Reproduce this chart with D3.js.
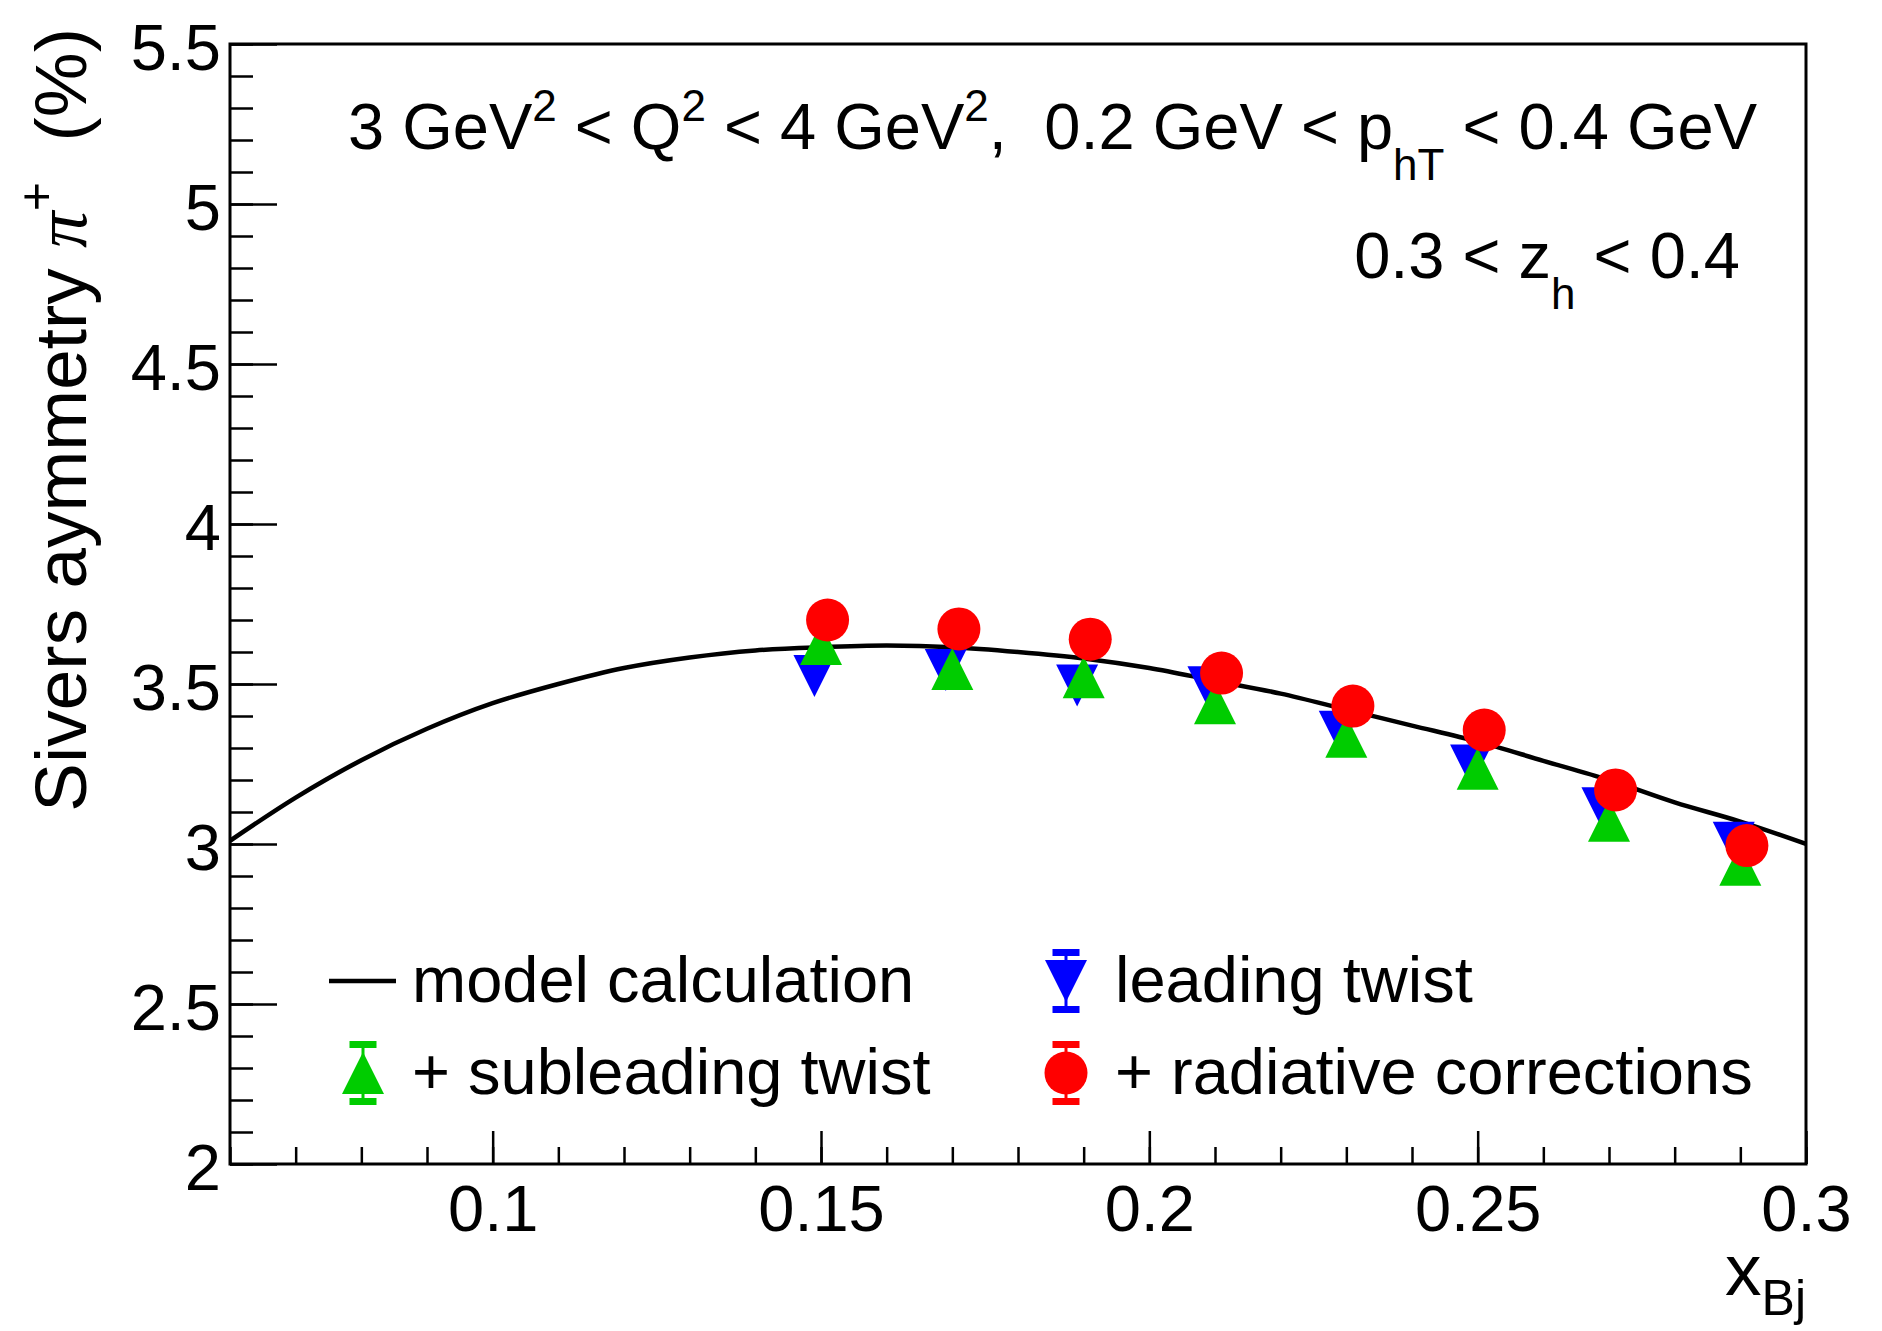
<!DOCTYPE html>
<html>
<head>
<meta charset="utf-8">
<script src="https://cdn.jsdelivr.net/npm/d3@7"></script>
<style>
  body { margin: 0; background: #fff; }
  text { font-family: "Liberation Sans", Arial, sans-serif; fill: #000; white-space: pre; }
</style>
</head>
<body>
<svg width="1882" height="1331"></svg>
<script>
// values
var xTicks = [0.1, 0.15, 0.2, 0.25, 0.3];
var yTicks = [2, 2.5, 3, 3.5, 4, 4.5, 5, 5.5];

var xLeading = [0.149, 0.169, 0.189, 0.209, 0.229, 0.249, 0.269, 0.289];
var yLeading = [3.525, 3.544, 3.495, 3.49, 3.351, 3.245, 3.112, 3.004];

var xSublead = [0.150, 0.170, 0.190, 0.210, 0.230, 0.250, 0.270, 0.290];
var ySublead = [3.625, 3.547, 3.521, 3.440, 3.335, 3.235, 3.073, 2.935];

var xRadiative = [0.151, 0.171, 0.191, 0.211, 0.231, 0.251, 0.271, 0.291];
var yRadiative = [3.70, 3.672, 3.640, 3.534, 3.431, 3.356, 3.169, 2.995];

var xModel = [0.06, 0.07, 0.08, 0.09, 0.10, 0.11, 0.12, 0.13, 0.14, 0.15, 0.16, 0.17, 0.18,
              0.19, 0.20, 0.21, 0.22, 0.23, 0.24, 0.25, 0.26, 0.27, 0.28, 0.29, 0.30];
var yModel = [3.010, 3.145, 3.262, 3.36, 3.44, 3.50, 3.55, 3.583, 3.605, 3.615, 3.62, 3.615, 3.60,
              3.58, 3.55, 3.51, 3.47, 3.42, 3.37, 3.32, 3.26, 3.20, 3.13, 3.07, 3.00];

var legendNames = ["model calculation", "leading twist", "+ subleading twist", "+ radiative corrections"];

var svg = d3.select("svg"),
    fLeft = 230, fRight = 1806, fTop = 44, fBottom = 1164,
    fs = 65, titleFs = 73;

var x = d3.scaleLinear().domain([0.06, 0.3]).range([fLeft, fRight]),
    y = d3.scaleLinear().domain([2, 5.5]).range([fBottom, fTop]);

var xMinor = d3.range(6, 31).map(function(d) { return d / 100; }),
    yMinor = d3.range(20, 56).map(function(d) { return d / 10; });

// axes, ticks inside the frame like ROOT
var gx = svg.append("g").attr("transform", "translate(0," + fBottom + ")");
gx.call(d3.axisBottom(x).tickValues(xMinor).tickSizeInner(-17).tickSizeOuter(0).tickFormat(""));
gx.append("g").call(d3.axisBottom(x).tickValues(xTicks).tickSizeInner(-33).tickSizeOuter(0)
    .tickPadding(21).tickFormat(d3.format("~g")));

var gy = svg.append("g").attr("transform", "translate(" + fLeft + ",0)");
gy.call(d3.axisLeft(y).tickValues(yMinor).tickSizeInner(-23).tickSizeOuter(0).tickFormat(""));
gy.append("g").call(d3.axisLeft(y).tickValues(yTicks).tickSizeInner(-47).tickSizeOuter(0)
    .tickPadding(9).tickFormat(d3.format("~g")));

svg.selectAll(".domain").remove();
svg.selectAll(".tick line").attr("stroke", "#000").attr("stroke-width", 2.5);
svg.selectAll(".tick text").style("font-family", "'Liberation Sans', Arial, sans-serif")
    .style("font-size", fs + "px").attr("fill", "#000");
gy.selectAll(".tick text").attr("dy", "0.39em");

svg.append("rect")
    .attr("x", fLeft).attr("y", fTop)
    .attr("width", fRight - fLeft).attr("height", fBottom - fTop)
    .attr("fill", "none").attr("stroke", "#000").attr("stroke-width", 3);

// axis titles
var xt = svg.append("text").attr("x", fRight).attr("y", 1295)
    .attr("text-anchor", "end").style("font-size", titleFs + "px");
xt.append("tspan").text("x");
xt.append("tspan").attr("dy", 20).style("font-size", "50px").text("Bj");

var yt = svg.append("text")
    .attr("transform", "translate(86,28) rotate(-90)")
    .attr("text-anchor", "end").style("font-size", titleFs + "px");
yt.append("tspan").text("Sivers aymmetry ");
yt.append("tspan").style("font-family", "'Liberation Serif', serif").style("font-style", "italic").text("π");
yt.append("tspan").attr("dy", -33).style("font-size", "50px").text("+");
yt.append("tspan").attr("dy", 33).text("  (%)");

// model curve
svg.append("clipPath").attr("id", "frame").append("rect")
    .attr("x", fLeft).attr("y", fTop).attr("width", fRight - fLeft).attr("height", fBottom - fTop);

var line = d3.line()
    .x(function(d) { return x(d[0]); })
    .y(function(d) { return y(d[1]); })
    .curve(d3.curveMonotoneX);

svg.append("path")
    .datum(d3.zip(xModel, yModel))
    .attr("clip-path", "url(#frame)")
    .attr("d", line)
    .attr("fill", "none").attr("stroke", "#000").attr("stroke-width", 4.5);

// markers
var r = 21;
function tri(cx, cy, up) {
  var s = up ? 1 : -1;
  return "M" + (cx - r) + "," + (cy + s * r) + "L" + (cx + r) + "," + (cy + s * r) +
         "L" + cx + "," + (cy - s * r) + "Z";
}

svg.append("g").selectAll("path")
    .data(d3.zip(xLeading, yLeading))
    .enter().append("path")
    .attr("d", function(d) { return tri(x(d[0]), y(d[1]), false); })
    .attr("fill", "#0000ff");

svg.append("g").selectAll("path")
    .data(d3.zip(xSublead, ySublead))
    .enter().append("path")
    .attr("d", function(d) { return tri(x(d[0]), y(d[1]), true); })
    .attr("fill", "#00cc00");

svg.append("g").selectAll("circle")
    .data(d3.zip(xRadiative, yRadiative))
    .enter().append("circle")
    .attr("cx", function(d) { return x(d[0]); })
    .attr("cy", function(d) { return y(d[1]); })
    .attr("r", 21.5)
    .attr("fill", "#ff0000");

// annotations
var t1 = svg.append("text").attr("x", 348).attr("y", 149).style("font-size", fs + "px");
t1.append("tspan").text("3 GeV");
t1.append("tspan").attr("dy", -28).style("font-size", "44px").text("2");
t1.append("tspan").attr("dy", 28).text(" < Q");
t1.append("tspan").attr("dy", -28).style("font-size", "44px").text("2");
t1.append("tspan").attr("dy", 28).text(" < 4 GeV");
t1.append("tspan").attr("dy", -28).style("font-size", "44px").text("2");
t1.append("tspan").attr("dy", 28).text(",");

var t2 = svg.append("text").attr("x", 1757).attr("y", 149)
    .attr("text-anchor", "end").style("font-size", fs + "px");
t2.append("tspan").text("0.2 GeV < p");
t2.append("tspan").attr("dy", 31).style("font-size", "44px").text("hT");
t2.append("tspan").attr("dy", -31).text(" < 0.4 GeV");

var t3 = svg.append("text").attr("x", 1740).attr("y", 278)
    .attr("text-anchor", "end").style("font-size", fs + "px");
t3.append("tspan").text("0.3 < z");
t3.append("tspan").attr("dy", 31).style("font-size", "44px").text("h");
t3.append("tspan").attr("dy", -31).text(" < 0.4");

// legend
var lg = svg.append("g");
var col = [363, 1066], row = [981, 1073], textOff = 49, baseOff = 21;

function errBar(cx, cy, color) {
  lg.append("line").attr("x1", cx).attr("x2", cx).attr("y1", cy - 28).attr("y2", cy + 28)
      .attr("stroke", color).attr("stroke-width", 3);
  [cy - 32, cy + 25].forEach(function(yy) {
    lg.append("rect").attr("x", cx - 13.5).attr("y", yy).attr("width", 27).attr("height", 7)
        .attr("fill", color);
  });
}

lg.append("line").attr("x1", col[0] - 34).attr("x2", col[0] + 33)
    .attr("y1", row[0]).attr("y2", row[0]).attr("stroke", "#000").attr("stroke-width", 4.5);

errBar(col[1], row[0], "#0000ff");
lg.append("path").attr("d", tri(col[1], row[0], false)).attr("fill", "#0000ff");

errBar(col[0], row[1], "#00cc00");
lg.append("path").attr("d", tri(col[0], row[1], true)).attr("fill", "#00cc00");

errBar(col[1], row[1], "#ff0000");
lg.append("circle").attr("cx", col[1]).attr("cy", row[1]).attr("r", 21.5).attr("fill", "#ff0000");

var pos = [[col[0], row[0]], [col[1], row[0]], [col[0], row[1]], [col[1], row[1]]];
lg.selectAll("text.entry")
    .data(legendNames)
    .enter().append("text")
    .attr("class", "entry")
    .attr("x", function(d, i) { return pos[i][0] + textOff; })
    .attr("y", function(d, i) { return pos[i][1] + baseOff; })
    .style("font-size", fs + "px")
    .text(function(d) { return d; });
</script>
</body>
</html>
